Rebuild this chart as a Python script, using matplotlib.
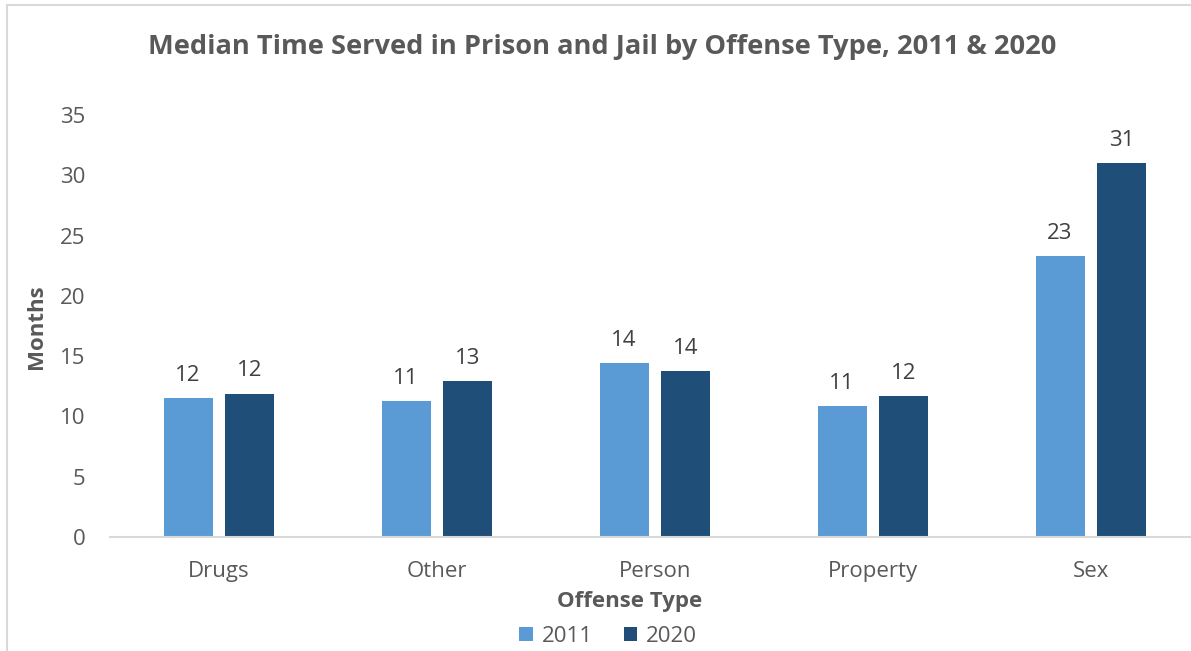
import matplotlib
matplotlib.use("Agg")
import matplotlib.pyplot as plt
from matplotlib.lines import Line2D
import numpy as np

categories = ["Drugs", "Other", "Person", "Property", "Sex"]
years = ["2011", "2020"]
median_2011 = [11.5, 11.3, 14.4, 10.9, 23.3]
median_2020 = [11.9, 12.9, 13.8, 11.7, 31.0]
yticks = [0, 5, 10, 15, 20, 25, 30, 35]

c2011 = "#5B9BD5"
c2020 = "#1F4E79"
txt = "#595959"
lbl = "#404040"

plt.rcParams["font.family"] = ["Open Sans", "DejaVu Sans"]

W, H = 1191, 651
fig = plt.figure(figsize=(W / 100, H / 100), dpi=100)

# outer frame of the chart area
fig.add_artist(Line2D([7 / W, 7 / W], [0, 1 - 5 / H], color="#D9D9D9", lw=1.5))
fig.add_artist(Line2D([7 / W, 1], [1 - 5 / H, 1 - 5 / H], color="#D9D9D9", lw=1.5))

# plot area: x from 110px to 1200px, y from 537px (0) to 115px (35)
ax = fig.add_axes([110 / W, (H - 537) / H, 1090 / W, (537 - 115) / H])

x = np.arange(len(categories))
bw = 0.225
off = 0.142
b1 = ax.bar(x - off, median_2011, bw, color=c2011, label=years[0])
b2 = ax.bar(x + off, median_2020, bw, color=c2020, label=years[1])

for bars in (b1, b2):
    for rect in bars:
        v = rect.get_height()
        ax.text(rect.get_x() + rect.get_width() / 2, v + 1.0, f"{v:.0f}",
                ha="center", va="bottom", fontsize=16, color=lbl)

ax.set_xlim(-0.5, len(categories) - 0.5)
ax.set_ylim(0, 35)
ax.set_yticks(yticks)
ax.set_xticks(x)
ax.set_xticklabels(categories)
ax.tick_params(axis="both", length=0, labelsize=16, colors=txt)
ax.tick_params(axis="y", pad=17.5)
ax.tick_params(axis="x", pad=17)
for s in ("top", "right", "left"):
    ax.spines[s].set_visible(False)
ax.spines["bottom"].set_color("#D9D9D9")
ax.spines["bottom"].set_linewidth(1.5)

fig.text(602 / W, 1 - 47 / H, "Median Time Served in Prison and Jail by Offense Type, 2011 & 2020",
         ha="center", va="center", fontsize=19.6, fontweight="bold", color=txt)
fig.text(630 / W, 1 - 601 / H, "Offense Type", ha="center", va="center",
         fontsize=16, fontweight="bold", color=txt)
fig.text(36 / W, 1 - 327 / H, "Months", ha="center", va="center", rotation=90,
         fontsize=16, fontweight="bold", color=txt)

leg = fig.legend(loc="center", bbox_to_anchor=(608 / W, 1 - 636 / H), ncol=2, frameon=False,
                 fontsize=16, handlelength=0.6, handleheight=0.6, handletextpad=0.4,
                 columnspacing=1.4)
for t in leg.get_texts():
    t.set_color(txt)

fig.savefig("out.png", dpi=100)
